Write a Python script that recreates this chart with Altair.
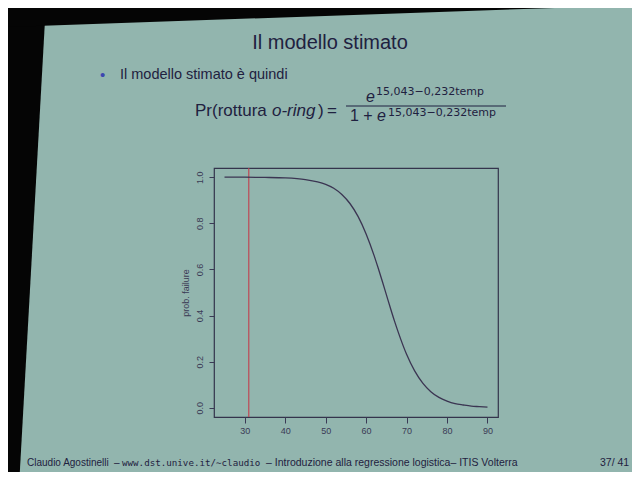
import altair as alt
import pandas as pd

# ---- data ----
temps = [25, 30, 35, 40, 45, 48, 50, 52, 54, 56, 58, 60, 62, 63, 64, 65, 66, 67, 68,
         70, 72, 74, 76, 78, 80, 82, 84, 86, 88, 90]
probs = [1.000, 1.000, 0.999, 0.997, 0.990, 0.980, 0.969, 0.952, 0.925, 0.886, 0.830,
         0.754, 0.659, 0.605, 0.549, 0.491, 0.433, 0.377, 0.325, 0.232, 0.160, 0.107,
         0.070, 0.045, 0.029, 0.018, 0.012, 0.007, 0.005, 0.003]
launch_temp = [31]
x_ticks = [30, 40, 50, 60, 70, 80, 90]
y_ticks = [0.0, 0.2, 0.4, 0.6, 0.8, 1.0]

SLIDE = "#92b5ae"
INK = "#1f2140"
AX = "#3a3a55"

# plot origin in image pixels
OX, OY = 214, 168
W, H = 284, 249
CW, CH = 624, 464  # canvas size (page margin 8px each side)


def px(x):
    return x - OX


def py(y):
    return y - OY


one = alt.Data(values=[{}])

curve_df = pd.DataFrame({"temp": temps, "prob": probs})
red_df = pd.DataFrame({"temp": launch_temp})

xs = alt.Scale(domain=[22.4, 92.6], nice=False, zero=False)
ys = alt.Scale(domain=[-0.04, 1.04], nice=False, zero=False)

curve = alt.Chart(curve_df).mark_line(color="#3b3552", strokeWidth=1.3, interpolate="monotone").encode(
    x=alt.X("temp:Q", scale=xs, axis=alt.Axis(
        values=x_ticks, format="d", title=None, grid=False, domain=False,
        tickSize=6, tickColor=AX, labelColor=AX, labelFontSize=9, labelPadding=3,
        labelFont="Liberation Sans", zindex=1)),
    y=alt.Y("prob:Q", scale=ys, axis=alt.Axis(
        values=y_ticks, format=".1f", title="prob. failure", grid=False, domain=False,
        tickSize=5, tickColor=AX, labelColor=AX, labelFontSize=9, labelAngle=270,
        labelAlign="center", labelBaseline="bottom", labelPadding=5,
        labelFont="Liberation Sans", titleFont="Liberation Sans", titleFontSize=9,
        titleFontWeight="normal", titleColor=AX, titlePadding=5, zindex=1)),
)

red = alt.Chart(red_df).mark_rule(color="#c2404e", strokeWidth=1.1).encode(
    x=alt.X("temp:Q", scale=xs)
)


def band(x1, y1, x2, y2, w):
    return alt.Chart(one).mark_rule(color="#050505", strokeWidth=w, strokeCap="butt").encode(
        x=alt.value(px(x1)), y=alt.value(py(y1)), x2=alt.value(px(x2)), y2=alt.value(py(y2))
    )


def txt(s, x, y, size, color=INK, align="left", font="Liberation Sans", style="normal", weight="normal"):
    return alt.Chart(one).mark_text(
        text=s, align=align, baseline="alphabetic", fontSize=size, color=color,
        font=font, fontStyle=style, fontWeight=weight
    ).encode(x=alt.value(px(x)), y=alt.value(py(y)))


bands = [
    band(-1, -53, -35, 557, 100),      # left dark edge
    band(-52, -21, 698, -47, 100),     # top dark edge
    band(-20, 497, 700, 497, 50),      # bottom dark edge
]

texts = [
    txt("Il modello stimato", 330, 49, 20, align="center"),
    txt("•", 100, 80, 15, color="#3d46b0"),
    txt("Il modello stimato è quindi", 120, 79, 14.5),
    txt("Pr(rottura", 195, 116, 17),
    txt("o-ring", 272, 116, 17, style="italic"),
    txt(")", 318, 116, 17),
    txt("=", 327, 116, 17),
    txt("e", 366, 102, 16, style="italic"),
    txt("15,043−0,232temp", 376, 95, 11, font="DejaVu Sans"),
    alt.Chart(one).mark_rule(color=INK, strokeWidth=1).encode(
        x=alt.value(px(346)), x2=alt.value(px(506)), y=alt.value(py(106)), y2=alt.value(py(106))),
    txt("1 + ", 350, 121, 16),
    txt("e", 377, 121, 16, style="italic"),
    txt("15,043−0,232temp", 388, 115.5, 11, font="DejaVu Sans"),
    txt("Claudio Agostinelli", 27, 466, 10),
    txt("–", 114, 466, 10),
    txt("www.dst.unive.it/∼claudio", 122, 466, 9.2, font="DejaVu Sans Mono"),
    txt("– Introduzione alla regressione logistica– ITIS Volterra", 266, 466, 10.5),
    txt("37/ 41", 600, 466, 10.5),
]

chart = alt.layer(*bands, *texts, red, curve).properties(
    width=W, height=H,
    autosize="none",
    padding={"left": OX - 8, "top": OY - 8, "right": CW - (OX - 8) - W, "bottom": CH - (OY - 8) - H},
    background=SLIDE,
).configure_view(stroke="#34344c", strokeWidth=1.2, fill=SLIDE)

chart.save("out.html", embed_options={"renderer": "svg", "actions": False})
